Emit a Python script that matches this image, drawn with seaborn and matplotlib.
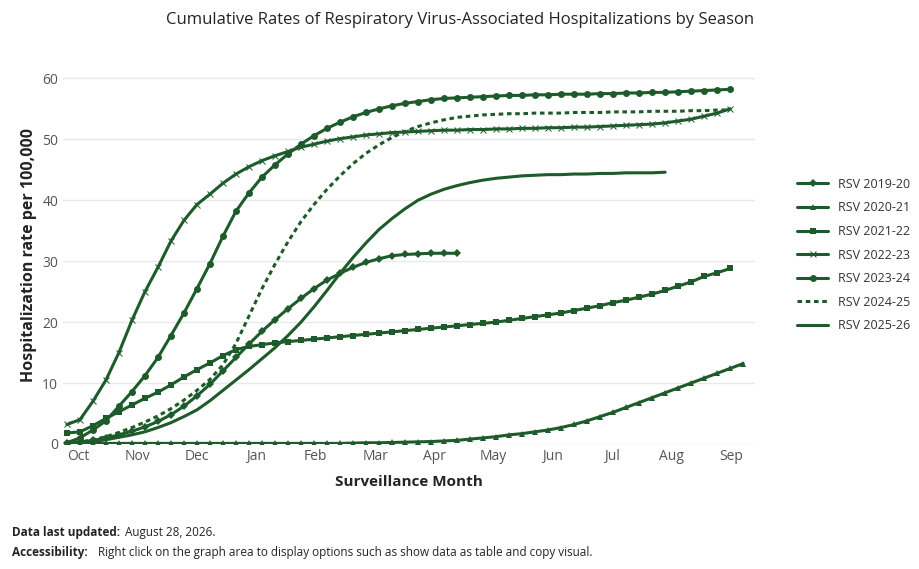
import matplotlib.pyplot as plt
import seaborn as sns
import numpy as np
import pandas as pd

months = ["Oct", "Nov", "Dec", "Jan", "Feb", "Mar", "Apr", "May", "Jun", "Jul", "Aug", "Sep"]

rsv_2019_20 = [0.1, 0.3, 0.6, 1.0, 1.5, 2.1, 2.8, 3.7, 4.8, 6.2, 7.9, 9.8, 12.0, 14.2, 16.4, 18.5,
               20.4, 22.2, 23.9, 25.5, 26.9, 28.0, 29.0, 29.8, 30.4, 30.9, 31.1, 31.2, 31.3, 31.3, 31.3]
rsv_2020_21 = [0.1] * 22 + [0.15, 0.2, 0.2, 0.25, 0.3, 0.35, 0.4, 0.5, 0.6, 0.8, 1.0, 1.2, 1.5,
               1.7, 2.0, 2.3, 2.7, 3.2, 3.8, 4.5, 5.2, 6.0, 6.8, 7.6, 8.4, 9.2, 10.0, 10.8, 11.6, 12.4, 13.2]
rsv_2021_22 = [1.8, 2.0, 3.0, 4.2, 5.3, 6.4, 7.5, 8.5, 9.7, 11.0, 12.2, 13.3, 14.5, 15.5, 16.0, 16.3,
               16.6, 16.8, 17.0, 17.2, 17.4, 17.6, 17.8, 18.0, 18.2, 18.4, 18.6, 18.8, 19.0, 19.2,
               19.4, 19.6, 19.8, 20.0, 20.3, 20.6, 20.9, 21.2, 21.5, 21.9, 22.3, 22.7, 23.2, 23.6,
               24.1, 24.6, 25.2, 25.9, 26.6, 27.5, 28.1, 28.8]
rsv_2022_23 = [3.2, 4.0, 7.0, 10.5, 15.0, 20.3, 25.0, 29.0, 33.3, 36.7, 39.3, 41.0, 42.8, 44.3, 45.5,
               46.5, 47.3, 48.0, 48.7, 49.2, 49.7, 50.1, 50.4, 50.7, 50.9, 51.1, 51.2, 51.3, 51.4,
               51.5, 51.5, 51.6, 51.6, 51.7, 51.7, 51.8, 51.8, 51.9, 51.9, 52.0, 52.0, 52.1, 52.2,
               52.3, 52.4, 52.5, 52.7, 53.0, 53.3, 53.8, 54.3, 55.0]
rsv_2023_24 = [0.2, 1.0, 2.3, 3.8, 6.2, 8.6, 11.2, 14.2, 17.8, 21.5, 25.5, 29.6, 34.1, 38.2, 41.2,
               43.8, 45.8, 47.6, 49.2, 50.6, 51.8, 52.8, 53.7, 54.4, 55.0, 55.5, 55.9, 56.2, 56.5,
               56.7, 56.8, 56.9, 57.0, 57.1, 57.2, 57.2, 57.3, 57.3, 57.4, 57.4, 57.4, 57.5, 57.5,
               57.6, 57.6, 57.7, 57.7, 57.8, 57.9, 58.0, 58.1, 58.2]
rsv_2024_25 = [0.1, 0.3, 0.7, 1.2, 1.9, 2.7, 3.6, 4.6, 5.8, 7.2, 8.8, 10.6, 13.0, 16.5, 21.0, 25.5,
               29.5, 33.2, 36.5, 39.3, 41.8, 44.0, 46.0, 47.7, 49.1, 50.3, 51.3, 52.1, 52.7, 53.2,
               53.6, 53.8, 54.0, 54.1, 54.2, 54.2, 54.3, 54.3, 54.3, 54.4, 54.4, 54.4, 54.5, 54.5,
               54.5, 54.6, 54.6, 54.6, 54.7, 54.7, 54.8, 54.8]
rsv_2025_26 = [0.1, 0.2, 0.4, 0.7, 1.1, 1.5, 2.0, 2.7, 3.5, 4.5, 5.6, 7.1, 8.8, 10.5, 12.2, 14.0,
               15.8, 17.8, 20.0, 22.5, 25.2, 28.0, 30.6, 33.0, 35.2, 37.0, 38.6, 40.0, 41.0, 41.8,
               42.4, 42.9, 43.3, 43.6, 43.8, 44.0, 44.1, 44.2, 44.2, 44.3, 44.3, 44.4, 44.4, 44.5,
               44.5, 44.5, 44.6]

series = [
    ("RSV 2019-20", rsv_2019_20, "D", "-", 4),
    ("RSV 2020-21", rsv_2020_21, "^", "-", 4),
    ("RSV 2021-22", rsv_2021_22, "s", "-", 5),
    ("RSV 2022-23", rsv_2022_23, "x", "-", 4),
    ("RSV 2023-24", rsv_2023_24, "o", "-", 5),
    ("RSV 2024-25", rsv_2024_25, "", (0, (1.5, 1.2)), 0),
    ("RSV 2025-26", rsv_2025_26, "", "-", 0),
]

green = "#1d5b2b"
sns.set_style("white")
plt.rcParams["font.family"] = ["Open Sans", "DejaVu Sans"]

fig = plt.figure(figsize=(9.2, 5.69), dpi=100)
ax = fig.add_axes([0.0685, 0.2197, 0.752, 0.664])

for name, vals, mk, ls, ms in series:
    df = pd.DataFrame({"week": np.arange(len(vals)), "rate": vals})
    sns.lineplot(data=df, x="week", y="rate", ax=ax, color=green, lw=2.2, linestyle=ls,
                 marker=mk if mk else None, markersize=ms, markeredgewidth=0.7 if mk == "x" else 0,
                 markeredgecolor=green, label=name)

ax.set_xlim(-0.3, 52.9)
ax.set_ylim(0, 62)
ax.set_yticks(range(0, 61, 10))
ax.set_xticks([0.9 + 4.56 * i for i in range(12)])
ax.set_xticklabels(months)
ax.tick_params(axis="both", labelsize=10, colors="#555555", length=0)
ax.grid(axis="y", color="#e8e8e8", lw=1)
for s in ax.spines.values():
    s.set_visible(False)
ax.set_xlabel("Surveillance Month", fontsize=11, fontweight="bold", color="#252423", labelpad=8)
ax.set_ylabel("Hospitalization rate per 100,000", fontsize=11.5, fontweight="bold", color="#252423")

ax.legend(loc="center left", bbox_to_anchor=(1.045, 0.5), frameon=False, fontsize=9,
          handlelength=2.5, labelspacing=0.85, labelcolor="#333333")

fig.text(0.5, 0.965, "Cumulative Rates of Respiratory Virus-Associated Hospitalizations by Season",
         ha="center", va="center", fontsize=12, color="#252423")
fig.text(0.013, 0.058, "Data last updated:", fontsize=8.5, fontweight="bold", color="#252423")
fig.text(0.136, 0.058, "August 28, 2026.", fontsize=8.5, color="#252423")
fig.text(0.013, 0.022, "Accessibility:", fontsize=8.5, fontweight="bold", color="#252423")
fig.text(0.107, 0.022, "Right click on the graph area to display options such as "
         "show data as table and copy visual.", fontsize=8.5, color="#252423")

fig.savefig("out.png", dpi=100)
